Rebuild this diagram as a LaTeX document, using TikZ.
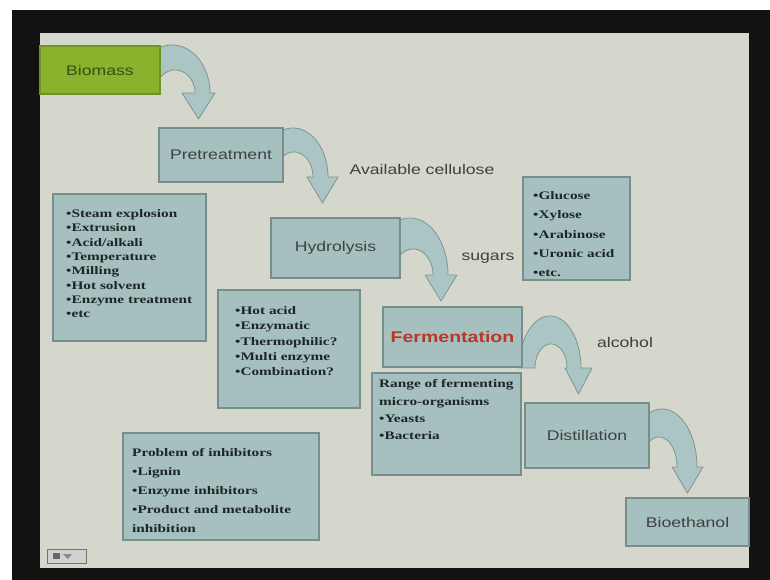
\documentclass[tikz,border=0pt]{standalone}
\usepackage{fontspec}
\newfontfamily\slidesans{Liberation Sans}[FakeStretch=1.26]
\newfontfamily\slideserif{Liberation Serif}[FakeStretch=1.33]

\definecolor{slidebg}{RGB}{213,215,205}
\definecolor{boxfill}{RGB}{165,192,190}
\definecolor{boxline}{RGB}{118,142,140}
\definecolor{arrowfill}{RGB}{170,197,195}
\definecolor{arrowline}{RGB}{125,150,148}
\definecolor{biogreen}{RGB}{138,178,44}
\definecolor{bioline}{RGB}{112,148,36}
\definecolor{biotext}{RGB}{58,78,24}
\definecolor{labeltext}{RGB}{60,66,66}
\definecolor{listtext}{RGB}{28,38,38}
\definecolor{fermred}{RGB}{185,55,40}

% Curved "down" block arrow: outer half-ellipse centre (#1,#2) radii #3,#4,
% inner half-ellipse centre x #5 radii #6,#7, arrow head from x=#8 to x=#9.
\newcommand{\bendarrow}[9]{%
  \filldraw[bendarrowstyle]
    plot[domain=180:360,samples=48,variable=\t] ({#1+#3*cos(\t)},{#2+#4*sin(\t)})
    -- (#9,#2) -- ({(#8+#9)/2},{#2+26}) -- (#8,#2)
    -- plot[domain=0:180,samples=48,variable=\t] ({#5+#6*cos(360-\t)},{#2+#7*sin(360-\t)})
    -- cycle;}

\begin{document}
\begin{tikzpicture}[x=1pt,y=-1pt,
  bendarrowstyle/.style={fill=arrowfill,draw=arrowline,line width=0.8pt,line join=round},
  stage/.style={draw=boxline,fill=boxfill,line width=1.2pt,inner sep=0pt,
    font=\slidesans\fontsize{14}{16}\selectfont,text=labeltext},
  panel/.style={draw=boxline,fill=boxfill,line width=1.2pt,inner sep=0pt},
  listtxt/.style={anchor=north west,inner sep=0pt,align=left,text=listtext},
  flowlabel/.style={inner sep=0pt,font=\slidesans\fontsize{14}{16}\selectfont,text=labeltext}]

% page, projector frame and slide area
\useasboundingbox (0,0) rectangle (770,580);
\fill[white] (0,0) rectangle (770,580);
\fill[black!93] (12,10) rectangle (770,580);
\fill[slidebg] (40,33) rectangle (749,568);

% block arrows (drawn first so the boxes cover their left legs)
\bendarrow{172}{93}{38}{48}{175}{20}{23}{182}{215}
\bendarrow{293}{177}{35}{49}{294}{19}{25}{307}{338}
\bendarrow{410}{275}{38}{57}{413}{20}{26}{425}{457}
\bendarrow{550}{368}{31}{52}{551}{16}{24}{565}{592}
\bendarrow{662}{467}{35}{58}{659}{18}{30}{672}{703}

% process stages
\node[stage,fill=biogreen,draw=bioline,text=biotext,minimum width=120pt,minimum height=48pt] (bio) at (100,70) {Biomass};
\node[stage,minimum width=124pt,minimum height=54pt] (pre) at (221,155) {Pretreatment};
\node[stage,minimum width=129pt,minimum height=60pt] (hyd) at (335.5,248) {Hydrolysis};
\node[stage,minimum width=139pt,minimum height=60pt,text=fermred,
  font=\slidesans\bfseries\fontsize{15.5}{18}\selectfont] (fer) at (452.5,337) {Fermentation};
\node[stage,minimum width=124pt,minimum height=65pt] (dis) at (587,435.5) {Distillation};
\node[stage,minimum width=123pt,minimum height=48pt] (eth) at (687.5,522) {Bioethanol};

% intermediate products
\node[flowlabel] (cel) at (422,169) {Available cellulose};
\node[flowlabel] (sug) at (488,258) {sugars};
\node[flowlabel] (alc) at (625,342) {alcohol};

% detail panels
\node[panel,minimum width=153pt,minimum height=147pt] (prebox) at (129.5,267.5) {};
\node[listtxt,font=\slideserif\bfseries\fontsize{11.5}{14.3}\selectfont] (prelist) at (66,209.5)
  {•Steam explosion\\•Extrusion\\•Acid/alkali\\•Temperature\\•Milling\\•Hot solvent\\•Enzyme treatment\\•etc};

\node[panel,minimum width=142pt,minimum height=118pt] (hydbox) at (289,349) {};
\node[listtxt,font=\slideserif\bfseries\fontsize{11.5}{15.2}\selectfont] (hydlist) at (235,306.5)
  {•Hot acid\\•Enzymatic\\•Thermophilic?\\•Multi enzyme\\•Combination?};

\node[panel,minimum width=107pt,minimum height=103pt] (sugbox) at (576.5,228.5) {};
\node[listtxt,font=\slideserif\bfseries\fontsize{11.5}{19.2}\selectfont] (suglist) at (533,191.5)
  {•Glucose\\•Xylose\\•Arabinose\\•Uronic acid\\•etc.};

\node[panel,minimum width=149pt,minimum height=102pt] (ferbox) at (446.5,424) {};
\node[listtxt,font=\slideserif\bfseries\fontsize{11.5}{17.3}\selectfont] (ferlist) at (379,379.5)
  {Range of fermenting\\micro-organisms\\•Yeasts\\•Bacteria};

\node[panel,minimum width=196pt,minimum height=107pt] (inhbox) at (221,486.5) {};
\node[listtxt,font=\slideserif\bfseries\fontsize{11.5}{19}\selectfont] (inhlist) at (132,448.5)
  {Problem of inhibitors\\•Lignin\\•Enzyme inhibitors\\•Product and metabolite\\inhibition};

% slide navigation button
\filldraw[fill=black!18,draw=black!55,line width=0.8pt] (47,549) rectangle (86,563);
\fill[black!60] (53,553) rectangle (60,559);
\fill[black!45] (63,554) -- (72,554) -- (68,559) -- cycle;
\end{tikzpicture}
\end{document}
